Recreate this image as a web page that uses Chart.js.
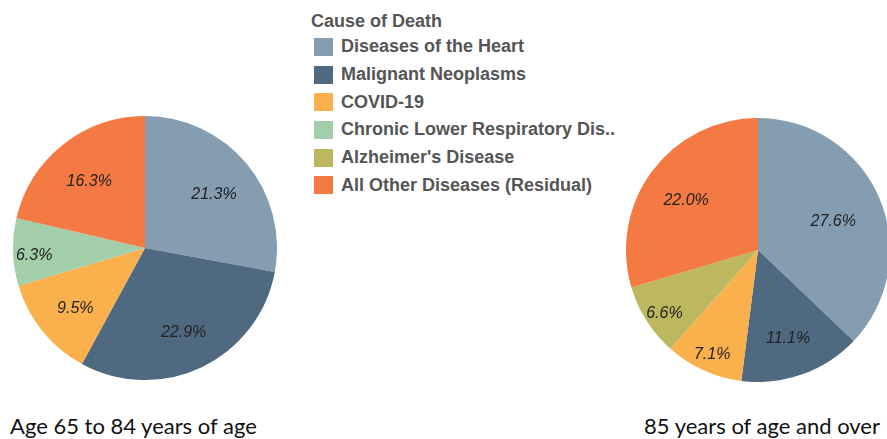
<!DOCTYPE html>
<html lang="en">
  <head>
    <meta charset="UTF-8" />
    <script src="https://cdn.jsdelivr.net/npm/chart.js@4.4.0/dist/chart.umd.min.js"></script>
    <title>Cause of Death</title>
    <style>
      body {
        margin: 0;
        padding: 0;
        background: white;
        width: 887px;
        height: 439px;
        overflow: hidden;
        position: relative;
        font-family: 'Liberation Sans', Arial, sans-serif;
      }
      .pie {
        position: absolute;
        width: 264px;
        height: 264px;
      }
      #legend {
        position: absolute;
        left: 311px;
        top: 9px;
        color: #555;
        font-weight: bold;
        font-size: 18px;
      }
      #legend .title {
        height: 24px;
        line-height: 24px;
      }
      #legend .item {
        display: flex;
        align-items: center;
        height: 27.7px;
        white-space: nowrap;
      }
      #legend .swatch {
        width: 19px;
        height: 18px;
        margin-left: 3px;
        margin-right: 8px;
      }
      .caption {
        position: absolute;
        top: 412px;
        font-family: Lato, 'Open Sans', sans-serif;
        font-size: 22px;
        color: #111;
        white-space: nowrap;
      }
    </style>
  </head>
  <body>
    <div id="legend"></div>
    <div class="pie" style="left: 13px; top: 116px"><canvas id="left"></canvas></div>
    <div class="pie" style="left: 626px; top: 118px"><canvas id="right"></canvas></div>
    <div class="caption" style="left: 10px">Age 65 to 84 years of age</div>
    <div class="caption" style="right: 7px">85 years of age and over</div>
    <script>
      const causes = [
        'Diseases of the Heart',
        'Malignant Neoplasms',
        'COVID-19',
        'Chronic Lower Respiratory Dis..',
        "Alzheimer's Disease",
        'All Other Diseases (Residual)',
      ]
      const colors = ['#849db1', '#4f6980', '#fbb04e', '#a2ceaa', '#bdb85f', '#f47942']
      const age65to84 = [21.3, 22.9, 9.5, 6.3, 0, 16.3]
      const age85over = [27.6, 11.1, 7.1, 0, 6.6, 22.0]

      // legend built from the categories
      const legend = document.getElementById('legend')
      legend.innerHTML =
        '<div class="title">Cause of Death</div>' +
        causes
          .map(
            (c, i) =>
              '<div class="item"><span class="swatch" style="background:' +
              colors[i] +
              '"></span>' +
              c +
              '</div>'
          )
          .join('')

      // percent labels inside the slices
      const sliceLabels = {
        id: 'sliceLabels',
        afterDatasetsDraw(chart) {
          const ctx = chart.ctx
          const meta = chart.getDatasetMeta(0)
          const values = chart.data.datasets[0].data
          ctx.save()
          ctx.font = 'italic 16px "Liberation Sans", Arial, sans-serif'
          ctx.fillStyle = '#222'
          ctx.textAlign = 'center'
          ctx.textBaseline = 'middle'
          meta.data.forEach((arc, i) => {
            if (!values[i]) return
            const span = arc.endAngle - arc.startAngle
            const mid = arc.startAngle + span / 2
            let f = 0.68
            if (span < 0.75) f = 0.84
            else if (span > 2.1) f = 0.62
            const r = arc.outerRadius * f
            ctx.fillText(values[i].toFixed(1) + '%', arc.x + Math.cos(mid) * r, arc.y + Math.sin(mid) * r + 4)
          })
          ctx.restore()
        },
      }

      const makePie = (id, values) =>
        new Chart(document.getElementById(id), {
          type: 'pie',
          data: {
            labels: causes,
            datasets: [
              {
                data: values,
                backgroundColor: colors,
                borderWidth: 0,
              },
            ],
          },
          options: {
            responsive: true,
            maintainAspectRatio: false,
            animation: false,
            layout: { padding: 0 },
            plugins: {
              legend: { display: false },
              tooltip: { enabled: false },
            },
          },
          plugins: [sliceLabels],
        })

      makePie('left', age65to84)
      makePie('right', age85over)
    </script>
  </body>
</html>
